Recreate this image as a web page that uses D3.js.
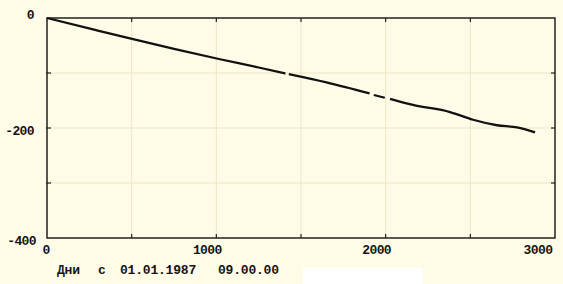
<!DOCTYPE html>
<html>
<head>
<meta charset="utf-8">
<script src="https://cdn.jsdelivr.net/npm/d3@7"></script>
<style>
  html, body { margin: 0; padding: 0; background: #fefbe7; }
  svg { display: block; }
  text { font-family: "Liberation Mono", "DejaVu Sans Mono", monospace; font-weight: bold; fill: #141414; }
</style>
</head>
<body>
<svg id="chart" width="563" height="284"></svg>
<script>
// Data (days since 01.01.1987, value); null marks a break in the trace
const days   = [0, 290, 490, 750, 1022, 1250, 1408, null, 1428, 1650, 1905, null, 1930, 1995, null, 2026, 2161, 2380, 2516, 2658, 2776, 2882];
const values = [0, -22, -37, -56, -75, -90, -101, null, -102, -117, -137, null, -140, -145, null, -147, -158, -171, -185, -195, -199, -208];
const xTickLabels = [0, 1000, 2000, 3000];
const yTickLabels = [0, -200, -400];
const xGrid = [500, 1000, 1500, 2000, 2500];
const yGrid = [-100, -200, -300];
const caption = ["Дни", "с", "01.01.1987", "09.00.00"];

const svg = d3.select("#chart");
const W = 563, H = 284;
const x = d3.scaleLinear().domain([0, 3000]).range([47, 555]);
const y = d3.scaleLinear().domain([0, -400]).range([18, 238]);

svg.append("rect").attr("width", W).attr("height", H).attr("fill", "#fefbe7");
// pale white patch at bottom
svg.append("rect").attr("x", 303).attr("y", 268).attr("width", 120).attr("height", 16).attr("fill", "#ffffff");

// grid
svg.append("g").selectAll("line").data(xGrid).join("line")
  .attr("x1", d => x(d)).attr("x2", d => x(d)).attr("y1", y(0)).attr("y2", y(-400))
  .attr("stroke", "#ebe6c6").attr("stroke-width", 1);
svg.append("g").selectAll("line").data(yGrid).join("line")
  .attr("y1", d => y(d)).attr("y2", d => y(d)).attr("x1", x(0)).attr("x2", x(3000))
  .attr("stroke", "#ebe6c6").attr("stroke-width", 1);

// frame
svg.append("rect").attr("x", x(0)).attr("y", y(0))
  .attr("width", x(3000) - x(0)).attr("height", y(-400) - y(0))
  .attr("fill", "none").attr("stroke", "#222").attr("stroke-width", 1.5);

// inward ticks on all sides
const tk = 4;
const tg = svg.append("g").attr("stroke", "#222").attr("stroke-width", 1.2);
xGrid.forEach(d => {
  tg.append("line").attr("x1", x(d)).attr("x2", x(d)).attr("y1", y(0)).attr("y2", y(0) + tk);
  tg.append("line").attr("x1", x(d)).attr("x2", x(d)).attr("y1", y(-400)).attr("y2", y(-400) - tk);
});
yGrid.forEach(d => {
  tg.append("line").attr("y1", y(d)).attr("y2", y(d)).attr("x1", x(0) - 1).attr("x2", x(0) + tk);
  tg.append("line").attr("y1", y(d)).attr("y2", y(d)).attr("x1", x(3000)).attr("x2", x(3000) - tk);
});

// x tick labels
svg.append("g").selectAll("text").data(xTickLabels).join("text")
  .attr("x", d => d === 0 ? x(d) - 1 : d === 3000 ? x(d) - 17 : x(d) - 9)
  .attr("y", 254)
  .attr("text-anchor", "middle")
  .attr("font-size", 13)
  .attr("letter-spacing", -0.6)
  .text(d => d);

// y tick labels
svg.append("g").selectAll("text").data(yTickLabels).join("text")
  .attr("x", d => d === 0 ? 34 : d === -200 ? 34 : 36)
  .attr("y", d => y(d) + (d === 0 ? 1 : 7))
  .attr("text-anchor", "end")
  .attr("font-size", 13)
  .attr("letter-spacing", -0.6)
  .text(d => d === 0 ? "0" : "-" + Math.abs(d));

// data line
const pts = days.map((d, i) => [d, values[i]]);
const line = d3.line().defined(p => p[0] !== null && p[1] !== null)
  .x(p => x(p[0])).y(p => y(p[1])).curve(d3.curveMonotoneX);
svg.append("path").datum(pts)
  .attr("d", line).attr("fill", "none")
  .attr("stroke", "#111").attr("stroke-width", 2.3)
  .attr("stroke-linejoin", "round").attr("stroke-linecap", "butt");

// caption
const capX = [57, 98, 120, 218];
svg.append("g").selectAll("text").data(caption).join("text")
  .attr("x", (d, i) => capX[i]).attr("y", 274)
  .attr("font-size", 13)
  .attr("letter-spacing", -0.2)
  .text(d => d);
</script>
</body>
</html>
